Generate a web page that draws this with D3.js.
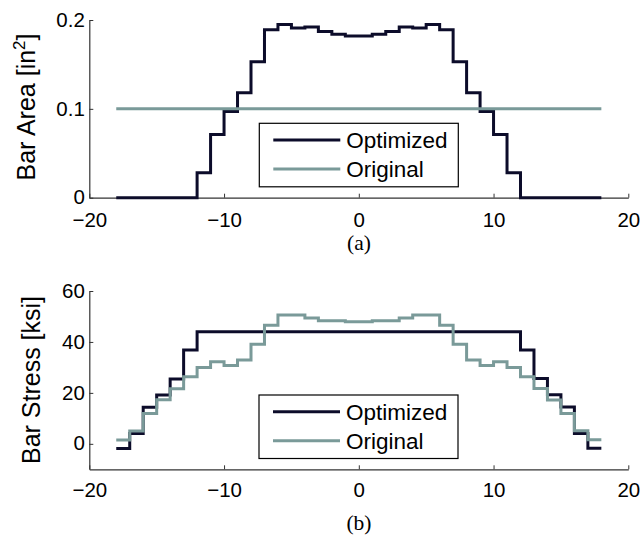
<!DOCTYPE html>
<html>
<head>
<meta charset="utf-8">
<script src="https://cdn.jsdelivr.net/npm/d3@7"></script>
<style>
  html, body { margin: 0; padding: 0; background: #fff; }
  svg { display: block; }
</style>
</head>
<body>
<svg id="chart" width="642" height="537"></svg>
<script>
// Bar edges along the span (in), 36 bars of unit width
const barEdges = [-18,-17,-16,-15,-14,-13,-12,-11,-10,-9,-8,-7,-6,-5,-4,-3,-2,-1,0,
                  1,2,3,4,5,6,7,8,9,10,11,12,13,14,15,16,17,18];

// (a) bar cross-section area [in^2]
const areaOptimized = [0,0,0,0,0,0,0.028,0.071,0.097,0.118,0.153,0.189,
                       0.195,0.191,0.192,0.187,0.184,0.182,0.182,0.184,0.187,0.192,0.191,0.195,
                       0.189,0.153,0.118,0.097,0.071,0.028,0,0,0,0,0,0];
const areaOriginal = [0.1,0.1,0.1,0.1,0.1,0.1,0.1,0.1,0.1,0.1,0.1,0.1,
                      0.1,0.1,0.1,0.1,0.1,0.1,0.1,0.1,0.1,0.1,0.1,0.1,
                      0.1,0.1,0.1,0.1,0.1,0.1,0.1,0.1,0.1,0.1,0.1,0.1];

// (b) bar stress [ksi]
const stressOptimized = [-1.8,4.1,14.4,19.2,25.5,36.8,44,44,44,44,44,44,
                         44,44,44,44,44,44,44,44,44,44,44,44,
                         44,44,44,44,44,44,36.8,25.6,19.3,14.5,4.1,-1.7];
const stressOriginal = [1.5,5.0,11.9,17.3,21.6,26.3,30.0,32.2,30.8,32.9,39.1,46.6,
                        50.6,50.6,49.4,48.3,48.3,47.9,47.9,48.3,48.3,49.4,50.6,50.6,
                        46.6,39.1,32.9,30.8,32.2,30.0,26.3,21.7,17.2,11.9,5.1,1.6];

const seriesNames = ["Optimized", "Original"];
const seriesColors = ["#0c0c2a", "#7a9a99"];

const xTicks = [-20, -10, 0, 10, 20];
const xTickLabels = ["\u221220", "\u221210", "0", "10", "20"];
const areaTicks = [0, 0.1, 0.2];
const areaTickLabels = ["0", "0.1", "0.2"];
const stressTicks = [0, 20, 40, 60];
const stressTickLabels = ["0", "20", "40", "60"];

const SANS = '"Liberation Sans", Arial, Helvetica, sans-serif';
const SERIF = '"Liberation Serif", "Times New Roman", Times, serif';

const svg = d3.select("#chart");
svg.append("rect").attr("width", 642).attr("height", 537).attr("fill", "#fff");

const x = d3.scaleLinear().domain([-20, 20]).range([89.3, 628.3]);

function stepPoints(values) {
  const pts = values.map((v, i) => [barEdges[i], v]);
  pts.push([barEdges[barEdges.length - 1], values[values.length - 1]]);
  return pts;
}

function panel(opts) {
  const y = d3.scaleLinear().domain(opts.yDomain).range(opts.yRange);
  const g = svg.append("g");

  // axes (box off, inward ticks)
  const xAxis = d3.axisBottom(x)
    .tickValues(xTicks)
    .tickFormat((d, i) => xTickLabels[i])
    .tickSizeInner(-4).tickSizeOuter(0).tickPadding(opts.xPad);
  const gx = g.append("g").attr("transform", `translate(0,${opts.yRange[0]})`).call(xAxis);

  const yAxis = d3.axisLeft(y)
    .tickValues(opts.yTicks)
    .tickFormat((d, i) => opts.yTickLabels[i])
    .tickSizeInner(-4).tickSizeOuter(0).tickPadding(4.5);
  const gy = g.append("g").attr("transform", `translate(${x.range()[0]},0)`).call(yAxis);

  [gx, gy].forEach(a => {
    a.attr("font-family", null).attr("font-size", null);
    a.select(".domain").attr("stroke", "#333").attr("stroke-width", 1.2);
    a.selectAll(".tick line").attr("stroke", "#333").attr("stroke-width", 1);
    a.selectAll(".tick text")
      .style("font-family", SANS)
      .style("font-size", "20.5px").attr("fill", "#000");
  });
  gy.selectAll(".tick text").attr("dy", "0.3em");

  // step lines
  const line = d3.line()
    .x(d => x(d[0])).y(d => y(d[1]))
    .curve(d3.curveStepAfter);
  opts.series.forEach((vals, k) => {
    g.append("path")
      .datum(stepPoints(vals))
      .attr("d", line)
      .attr("fill", "none")
      .attr("stroke", seriesColors[k])
      .attr("stroke-width", 3);
  });

  // y label
  const yl = g.append("text")
    .attr("transform", `translate(${opts.ylabelX},${opts.ylabelY}) rotate(-90)`)
    .attr("text-anchor", "middle")
    .style("font-family", SANS)
    .style("font-size", "25px");
  yl.append("tspan").text(opts.ylabel);
  if (opts.ylabelSup) {
    yl.append("tspan").style("font-size", "17px").attr("dy", -10).text(opts.ylabelSup);
    yl.append("tspan").attr("dy", 10).text("]");
  }

  // legend
  const lg = g.append("g").attr("transform", `translate(${opts.legend[0]},${opts.legend[1]})`);
  lg.append("rect").attr("width", 199).attr("height", 63.5)
    .attr("fill", "#fff").attr("stroke", "#000").attr("stroke-width", 1.2);
  seriesNames.forEach((name, k) => {
    const ly = 16.7 + k * 29;
    lg.append("line").attr("x1", 14).attr("x2", 81).attr("y1", ly).attr("y2", ly)
      .attr("stroke", seriesColors[k]).attr("stroke-width", 3);
    lg.append("text").attr("x", 87).attr("y", ly + 8.5)
      .style("font-family", SANS)
      .style("font-size", "22.5px").text(name);
  });

  // panel caption
  svg.append("text")
    .attr("x", 359).attr("y", opts.captionY)
    .attr("text-anchor", "middle")
    .style("font-family", SERIF)
    .style("font-size", "21.5px")
    .text(opts.caption);
}

panel({
  yDomain: [0, 0.2], yRange: [197.7, 20],
  yTicks: areaTicks, yTickLabels: areaTickLabels,
  series: [areaOptimized, areaOriginal],
  ylabel: "Bar Area [in", ylabelSup: "2",
  ylabelX: 34.5, ylabelY: 107,
  legend: [259.3, 123.3],
  xPad: 14.5, caption: "(a)", captionY: 250
});

panel({
  yDomain: [-10, 60], yRange: [469.3, 291],
  yTicks: stressTicks, yTickLabels: stressTickLabels,
  series: [stressOptimized, stressOriginal],
  ylabel: "Bar Stress [ksi]", ylabelSup: null,
  ylabelX: 39.5, ylabelY: 380,
  legend: [259, 395],
  xPad: 13, caption: "(b)", captionY: 530
});
</script>
</body>
</html>
